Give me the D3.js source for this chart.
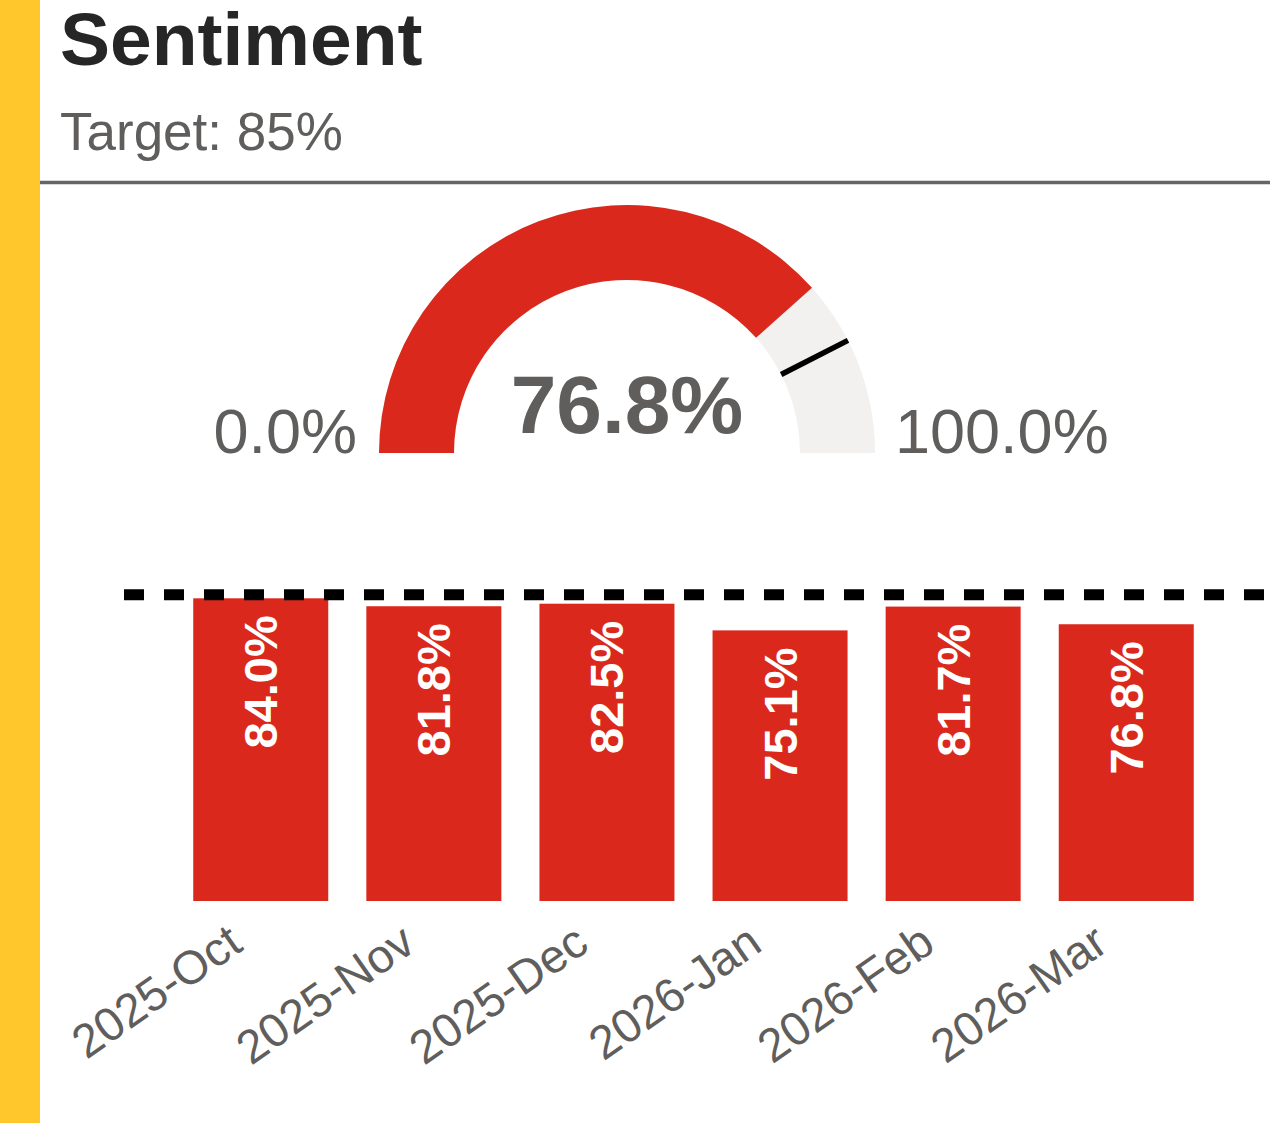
<!DOCTYPE html>
<html>
<head>
<meta charset="utf-8">
<script src="https://cdn.jsdelivr.net/npm/d3@7"></script>
<style>
  html, body { margin: 0; padding: 0; background: #ffffff; }
  svg { display: block; font-family: "Liberation Sans", Arial, Helvetica, sans-serif; }
</style>
</head>
<body>
<svg id="chart" width="1270" height="1123"></svg>
<script>
// ---- data ----
const title = "Sentiment";
const targetLabel = "Target: 85%";
const target = 85;
const current = 76.8;
const gaugeMin = 0;
const gaugeMax = 100;
const months = ["2025-Oct", "2025-Nov", "2025-Dec", "2026-Jan", "2026-Feb", "2026-Mar"];
const values = [84.0, 81.8, 82.5, 75.1, 81.7, 76.8];

// ---- styles ----
const RED = "#DA291C";
const GREY_BG = "#F2F1F0";
const TEXT_GREY = "#5F5E5C";
const YELLOW = "#FFC72C";

const svg = d3.select("#chart");
const W = 1270, H = 1123;

// left accent bar
svg.append("rect").attr("x", 0).attr("y", 0).attr("width", 40).attr("height", H).attr("fill", YELLOW);

// header
svg.append("text").attr("x", 60).attr("y", 65)
  .attr("font-size", 75).attr("font-weight", "bold").attr("fill", "#262626")
  .text(title);
svg.append("text").attr("x", 60).attr("y", 150)
  .attr("font-size", 53).attr("fill", TEXT_GREY)
  .text(targetLabel);
svg.append("line").attr("x1", 40).attr("x2", W).attr("y1", 182.5).attr("y2", 182.5)
  .attr("stroke", "#666666").attr("stroke-width", 3.5);

// ---- gauge ----
const cx = 627, cy = 453, rOuter = 248, rInner = 173;
const angle = d3.scaleLinear().domain([gaugeMin, gaugeMax]).range([-Math.PI / 2, Math.PI / 2]);
const arc = d3.arc().innerRadius(rInner).outerRadius(rOuter);
const g = svg.append("g").attr("transform", `translate(${cx},${cy})`);
g.append("path").attr("d", arc({ startAngle: angle(gaugeMin), endAngle: angle(gaugeMax) })).attr("fill", GREY_BG);
g.append("path").attr("d", arc({ startAngle: angle(gaugeMin), endAngle: angle(current) })).attr("fill", RED);
const ta = angle(target);
g.append("line")
  .attr("x1", rInner * Math.sin(ta)).attr("y1", -rInner * Math.cos(ta))
  .attr("x2", rOuter * Math.sin(ta)).attr("y2", -rOuter * Math.cos(ta))
  .attr("stroke", "#000").attr("stroke-width", 5.5);
g.append("text").attr("x", 0).attr("y", -20).attr("text-anchor", "middle")
  .attr("font-size", 82).attr("font-weight", "bold").attr("fill", TEXT_GREY)
  .text(current.toFixed(1) + "%");
g.append("text").attr("x", -rOuter - 22).attr("y", 0).attr("text-anchor", "end")
  .attr("font-size", 63).attr("fill", TEXT_GREY)
  .text(gaugeMin.toFixed(1) + "%");
g.append("text").attr("x", rOuter + 20).attr("y", 0).attr("text-anchor", "start")
  .attr("font-size", 63).attr("fill", TEXT_GREY)
  .text(gaugeMax.toFixed(1) + "%");

// ---- bars ----
const baseY = 901;
const x = d3.scaleBand().domain(months).range([124, 1263]).paddingInner(0.22).paddingOuter(0.4);
const y = d3.scaleLinear().domain([0, target]).range([baseY, 594.7]);

svg.append("g").selectAll("rect").data(values).join("rect")
  .attr("x", (d, i) => x(months[i]))
  .attr("y", d => y(d))
  .attr("width", x.bandwidth())
  .attr("height", d => baseY - y(d))
  .attr("fill", RED);

svg.append("g").selectAll("text").data(values).join("text")
  .attr("transform", (d, i) => `translate(${x(months[i]) + x.bandwidth() / 2},${y(d) + 17}) rotate(-90)`)
  .attr("text-anchor", "end").attr("dy", "0.35em")
  .attr("font-size", 47).attr("font-weight", "bold").attr("fill", "#ffffff")
  .text(d => d.toFixed(1) + "%");

// target dashed line
svg.append("line").attr("x1", 124).attr("x2", W).attr("y1", y(target)).attr("y2", y(target))
  .attr("stroke", "#000").attr("stroke-width", 11).attr("stroke-dasharray", "20,20");

// x axis
const xAxis = svg.append("g").attr("transform", `translate(0,${baseY})`)
  .call(d3.axisBottom(x).tickSize(0));
xAxis.select(".domain").remove();
xAxis.selectAll("text")
  .attr("x", 0).attr("y", 0).attr("dy", 0)
  .attr("transform", "translate(-16,48) rotate(-35)")
  .style("text-anchor", "end")
  .attr("font-size", 47)
  .attr("font-family", "\"Liberation Sans\", Arial, sans-serif")
  .attr("fill", TEXT_GREY);
</script>
</body>
</html>
